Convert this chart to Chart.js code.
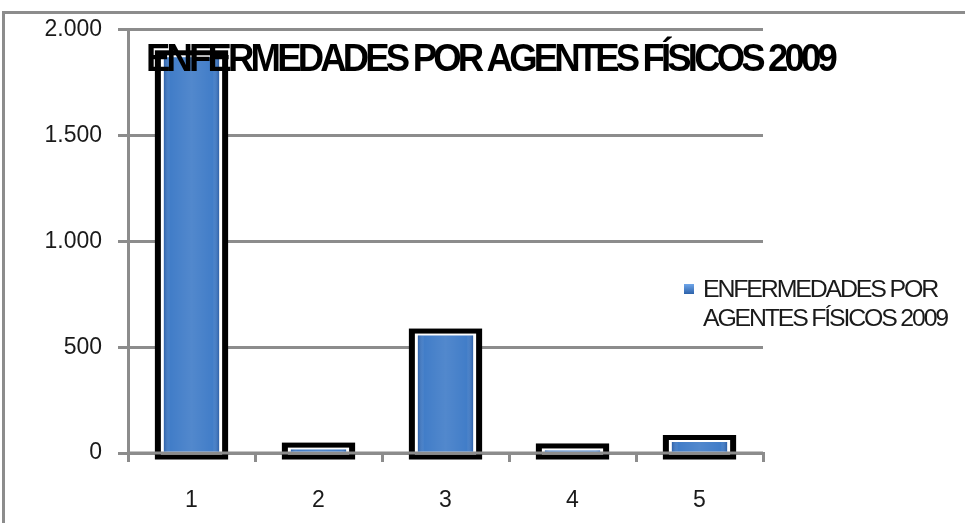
<!DOCTYPE html>
<html>
<head>
<meta charset="utf-8">
<script src="https://cdn.jsdelivr.net/npm/chart.js@4"></script>
<style>
  html, body { margin: 0; padding: 0; background: #fff; }
  #wrap { width: 965px; height: 523px; }
</style>
</head>
<body>
<div id="wrap"><canvas id="chart" width="965" height="523"></canvas></div>
<script>
// Data
const categories = ['1', '2', '3', '4', '5'];
const values = [1870, 16, 555, 12, 52];
const yTickLabels = { 0: '0', 500: '500', 1000: '1.000', 1500: '1.500', 2000: '2.000' };
const seriesName = 'ENFERMEDADES POR AGENTES FÍSICOS 2009';
const legendLines = ['ENFERMEDADES POR', 'AGENTES FÍSICOS 2009'];

const GRAY = '#8c8c8c';
const BLUE = '#3a78c6';
const FONT = '"Liberation Sans", Arial, sans-serif';

function barBox(bar) {
  const p = bar.getProps(['x', 'y', 'base', 'width'], true);
  return { l: p.x - p.width / 2, r: p.x + p.width / 2, t: p.y, b: p.base, w: p.width };
}

// text squeezed to a given width, glyphs pulled together
function squeezedText(ctx, text, x, y, width, spacing) {
  ctx.save();
  if ('letterSpacing' in ctx) ctx.letterSpacing = spacing + 'px';
  const w = ctx.measureText(text).width;
  ctx.translate(x, y);
  ctx.scale(width / w, 1);
  ctx.fillText(text, 0, 0);
  ctx.restore();
}

// outer frame of the chart object
const outerBorder = {
  id: 'outerBorder',
  beforeDraw(chart) {
    const ctx = chart.ctx;
    ctx.save();
    ctx.strokeStyle = GRAY;
    ctx.lineWidth = 3;
    ctx.beginPath();
    ctx.moveTo(3.5, 523);
    ctx.lineTo(3.5, 12.5);
    ctx.lineTo(965, 12.5);
    ctx.stroke();
    ctx.restore();
  }
};

// black frame with white gap round each bar, plus shading on the bars
const barFrames = {
  id: 'barFrames',
  beforeDatasetsDraw(chart) {
    const ctx = chart.ctx;
    ctx.save();
    chart.getDatasetMeta(0).data.forEach(bar => {
      const b = barBox(bar);
      ctx.fillStyle = '#000';
      ctx.fillRect(b.l - 9, b.t - 7, b.w + 18, b.b - b.t + 15);
      ctx.fillStyle = '#fff';
      ctx.fillRect(b.l - 3, b.t - 2, b.w + 6, b.b - b.t + 5);
    });
    // base line runs over the frames
    const area = chart.chartArea;
    ctx.strokeStyle = GRAY;
    ctx.lineWidth = 3;
    ctx.beginPath();
    ctx.moveTo(area.left, area.bottom);
    ctx.lineTo(area.right, area.bottom);
    ctx.stroke();
    ctx.restore();
  },
  afterDatasetsDraw(chart) {
    const ctx = chart.ctx;
    ctx.save();
    chart.getDatasetMeta(0).data.forEach(bar => {
      const b = barBox(bar);
      const g = ctx.createLinearGradient(b.l, 0, b.r, 0);
      g.addColorStop(0, 'rgba(20,50,110,0.35)');
      g.addColorStop(0.12, 'rgba(255,255,255,0.04)');
      g.addColorStop(0.5, 'rgba(255,255,255,0.12)');
      g.addColorStop(0.88, 'rgba(255,255,255,0.04)');
      g.addColorStop(1, 'rgba(20,50,110,0.35)');
      ctx.fillStyle = g;
      ctx.fillRect(b.l, b.t, b.w, b.b - b.t);
    });
    ctx.restore();
  }
};

// condensed bold title drawn over the plot, and the two-line legend
const titleLegend = {
  id: 'titleLegend',
  afterDraw(chart) {
    const ctx = chart.ctx;
    ctx.save();
    ctx.fillStyle = '#000';
    ctx.font = 'bold 38px ' + FONT;
    ctx.textBaseline = 'alphabetic';
    ctx.textAlign = 'left';
    squeezedText(ctx, seriesName, 146, 71, 688, -4);
    ctx.restore();

    ctx.save();
    const g = ctx.createLinearGradient(0, 284, 0, 294);
    g.addColorStop(0, '#6fa6ea');
    g.addColorStop(1, '#2c62aa');
    ctx.fillStyle = g;
    ctx.fillRect(684, 284, 10, 10);
    ctx.fillStyle = '#1a1a1a';
    ctx.font = '23px ' + FONT;
    ctx.textBaseline = 'alphabetic';
    const widths = [234, 244];
    legendLines.forEach((line, i) => {
      squeezedText(ctx, line, 703, 297 + i * 29, widths[i], -2);
    });
    ctx.restore();
  }
};

new Chart(document.getElementById('chart').getContext('2d'), {
  type: 'bar',
  data: {
    labels: categories,
    datasets: [{
      label: seriesName,
      data: values,
      backgroundColor: BLUE,
      borderWidth: 0,
      barPercentage: 0.435,
      categoryPercentage: 1.0
    }]
  },
  options: {
    responsive: false,
    animation: false,
    layout: { padding: { top: 28, right: 202, bottom: 0, left: 0 } },
    plugins: {
      legend: { display: false },
      title: { display: false },
      tooltip: { enabled: false }
    },
    scales: {
      x: {
        grid: {
          drawOnChartArea: false,
          drawTicks: true,
          tickLength: 9,
          color: GRAY,
          lineWidth: 3
        },
        border: { display: true, color: GRAY, width: 3 },
        ticks: {
          color: '#1a1a1a',
          font: { family: FONT, size: 23 },
          padding: 25
        },
        afterFit(scale) { scale.height = 70; }
      },
      y: {
        min: 0,
        max: 2000,
        ticks: {
          stepSize: 500,
          color: '#1a1a1a',
          font: { family: FONT, size: 23 },
          padding: 16,
          callback: v => yTickLabels[v]
        },
        grid: {
          color: GRAY,
          lineWidth: 3,
          tickLength: 10
        },
        border: { display: true, color: GRAY, width: 3 },
        afterFit(scale) { scale.width = 128; }
      }
    }
  },
  plugins: [outerBorder, barFrames, titleLegend]
});
</script>
</body>
</html>
